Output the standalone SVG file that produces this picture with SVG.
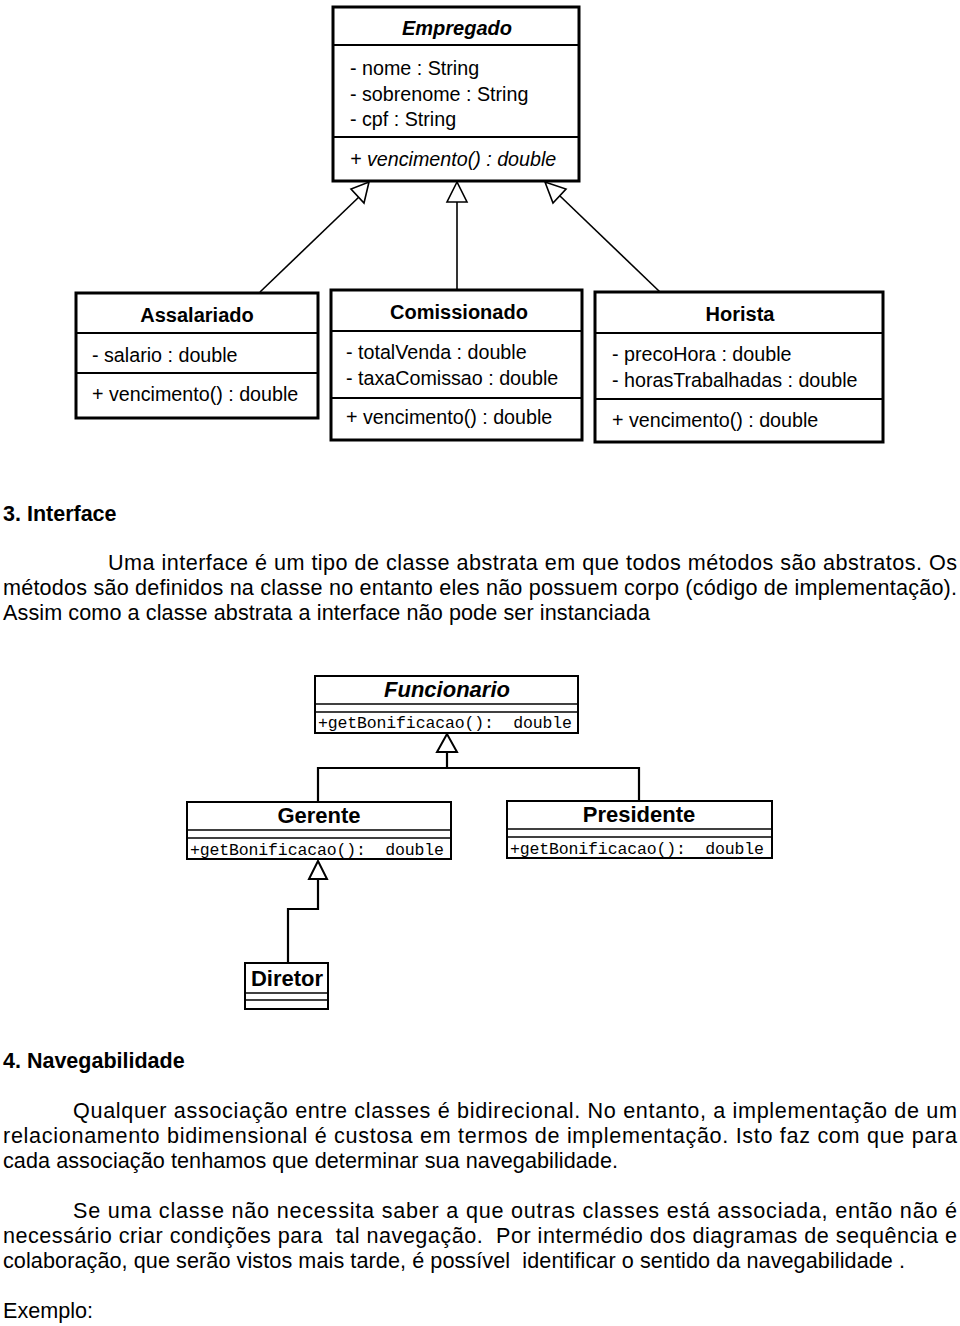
<svg xmlns="http://www.w3.org/2000/svg" width="960" height="1326" viewBox="0 0 960 1326">
<style>
.box{fill:#fff;stroke:#000;stroke-width:3}
.box2{fill:#fff;stroke:#000;stroke-width:2}
.div{stroke:#000;stroke-width:2}
.div2{stroke:#000;stroke-width:1.5}
.t{font-family:"Liberation Sans",Arial,sans-serif;font-size:19.7px;fill:#000}
.h{font-family:"Liberation Sans",Arial,sans-serif;font-size:20px;font-weight:bold;fill:#000;text-anchor:middle}
.hb{font-family:"Liberation Sans",Arial,sans-serif;font-size:22px;font-weight:bold;fill:#000;text-anchor:middle}
.hi{font-style:italic}
.it{font-style:italic}
.m{font-family:"Liberation Mono","Courier New",monospace;font-size:16.5px;fill:#000;white-space:pre}
.p{font-family:"Liberation Sans",Arial,sans-serif;font-size:21.6px;fill:#000;white-space:pre}
.pb{font-family:"Liberation Sans",Arial,sans-serif;font-size:21.5px;font-weight:bold;fill:#000}
.conn{fill:none;stroke:#000;stroke-width:1.6}
.conn2{fill:none;stroke:#000;stroke-width:2.2}
.tri{fill:#fff;stroke:#000;stroke-width:1.6}
.tri2{fill:#fff;stroke:#000;stroke-width:2}
</style>

<g id="connectors">
  <line class="conn" x1="260" y1="292" x2="360" y2="196"/>
  <polygon class="tri" points="369,182 364,203 351,189"/>
  <line class="conn" x1="457" y1="202" x2="457" y2="290"/>
  <polygon class="tri" points="457,182 447,202 467,202"/>
  <line class="conn" x1="660" y1="292" x2="560" y2="196"/>
  <polygon class="tri" points="545,182 566,189 553,203"/>

  <polyline class="conn2" points="447,752 447,768 318,768 318,802"/>
  <polyline class="conn2" points="447,768 639,768 639,801"/>
  <polygon class="tri2" points="447,734 437,752 457,752"/>

  <polyline class="conn2" points="318,879 318,909 288,909 288,963"/>
  <polygon class="tri2" points="318,861 309,879 327,879"/>
</g>

<g id="empregado">
  <rect class="box" x="333" y="7" width="246" height="174"/>
  <line class="div" x1="333" y1="45" x2="579" y2="45"/>
  <line class="div" x1="333" y1="137" x2="579" y2="137"/>
  <text class="h hi" x="457" y="35">Empregado</text>
  <text class="t" x="350" y="75">- nome : String</text>
  <text class="t" x="350" y="101">- sobrenome : String</text>
  <text class="t" x="350" y="126">- cpf : String</text>
  <text class="t it" x="350" y="166">+ vencimento() : double</text>
</g>

<g id="assalariado">
  <rect class="box" x="76" y="293" width="242" height="125"/>
  <line class="div" x1="76" y1="333" x2="318" y2="333"/>
  <line class="div" x1="76" y1="373" x2="318" y2="373"/>
  <text class="h" x="197" y="322">Assalariado</text>
  <text class="t" x="92" y="362">- salario : double</text>
  <text class="t" x="92" y="401">+ vencimento() : double</text>
</g>

<g id="comissionado">
  <rect class="box" x="331" y="290" width="251" height="150"/>
  <line class="div" x1="331" y1="331" x2="582" y2="331"/>
  <line class="div" x1="331" y1="398" x2="582" y2="398"/>
  <text class="h" x="459" y="319">Comissionado</text>
  <text class="t" x="346" y="359">- totalVenda : double</text>
  <text class="t" x="346" y="385">- taxaComissao : double</text>
  <text class="t" x="346" y="424">+ vencimento() : double</text>
</g>

<g id="horista">
  <rect class="box" x="595" y="292" width="288" height="150"/>
  <line class="div" x1="595" y1="333" x2="883" y2="333"/>
  <line class="div" x1="595" y1="399" x2="883" y2="399"/>
  <text class="h" x="740" y="321">Horista</text>
  <text class="t" x="612" y="361">- precoHora : double</text>
  <text class="t" x="612" y="387">- horasTrabalhadas : double</text>
  <text class="t" x="612" y="427">+ vencimento() : double</text>
</g>

<g id="texto-interface">
  <text class="pb" x="3" y="521">3. Interface</text>
  <text class="p" x="108" y="570" textLength="849" lengthAdjust="spacing">Uma interface é um tipo de classe abstrata em que todos métodos são abstratos. Os</text>
  <text class="p" x="3" y="595" textLength="954" lengthAdjust="spacing">métodos são definidos na classe no entanto eles não possuem corpo (código de implementação).</text>
  <text class="p" x="3" y="620" textLength="647" lengthAdjust="spacing">Assim como a classe abstrata a interface não pode ser instanciada</text>
</g>

<g id="funcionario">
  <rect class="box2" x="315" y="676" width="263" height="57"/>
  <line class="div2" x1="315" y1="704" x2="578" y2="704"/>
  <line class="div2" x1="315" y1="712" x2="578" y2="712"/>
  <text class="hb hi" x="447" y="697">Funcionario</text>
  <text class="m" x="318" y="728" textLength="254" lengthAdjust="spacing">+getBonificacao():  double</text>
</g>

<g id="gerente">
  <rect class="box2" x="187" y="802" width="264" height="57"/>
  <line class="div2" x1="187" y1="830" x2="451" y2="830"/>
  <line class="div2" x1="187" y1="838" x2="451" y2="838"/>
  <text class="hb" x="319" y="823">Gerente</text>
  <text class="m" x="190" y="855" textLength="254" lengthAdjust="spacing">+getBonificacao():  double</text>
</g>

<g id="presidente">
  <rect class="box2" x="507" y="801" width="265" height="57"/>
  <line class="div2" x1="507" y1="829" x2="772" y2="829"/>
  <line class="div2" x1="507" y1="837" x2="772" y2="837"/>
  <text class="hb" x="639" y="822">Presidente</text>
  <text class="m" x="510" y="854" textLength="254" lengthAdjust="spacing">+getBonificacao():  double</text>
</g>

<g id="diretor">
  <rect class="box2" x="245" y="963" width="83" height="46"/>
  <line class="div2" x1="245" y1="993" x2="328" y2="993"/>
  <line class="div2" x1="245" y1="1000" x2="328" y2="1000"/>
  <text class="hb" x="287" y="986">Diretor</text>
</g>

<g id="texto-navegabilidade">
  <text class="pb" x="3" y="1068">4. Navegabilidade</text>
  <text class="p" x="73" y="1118" textLength="884" lengthAdjust="spacing">Qualquer associação entre classes é bidirecional. No entanto, a implementação de um</text>
  <text class="p" x="3" y="1143" textLength="954" lengthAdjust="spacing">relacionamento bidimensional é custosa em termos de implementação. Isto faz com que para</text>
  <text class="p" x="3" y="1168" textLength="615" lengthAdjust="spacing">cada associação tenhamos que determinar sua navegabilidade.</text>
  <text class="p" x="73" y="1218" textLength="884" lengthAdjust="spacing">Se uma classe não necessita saber a que outras classes está associada, então não é</text>
  <text class="p" x="3" y="1243" textLength="954" lengthAdjust="spacing">necessário criar condições para  tal navegação.  Por intermédio dos diagramas de sequência e</text>
  <text class="p" x="3" y="1268" textLength="902" lengthAdjust="spacing">colaboração, que serão vistos mais tarde, é possível  identificar o sentido da navegabilidade .</text>
  <text class="p" x="3" y="1318" textLength="90" lengthAdjust="spacing">Exemplo:</text>
</g>
</svg>
